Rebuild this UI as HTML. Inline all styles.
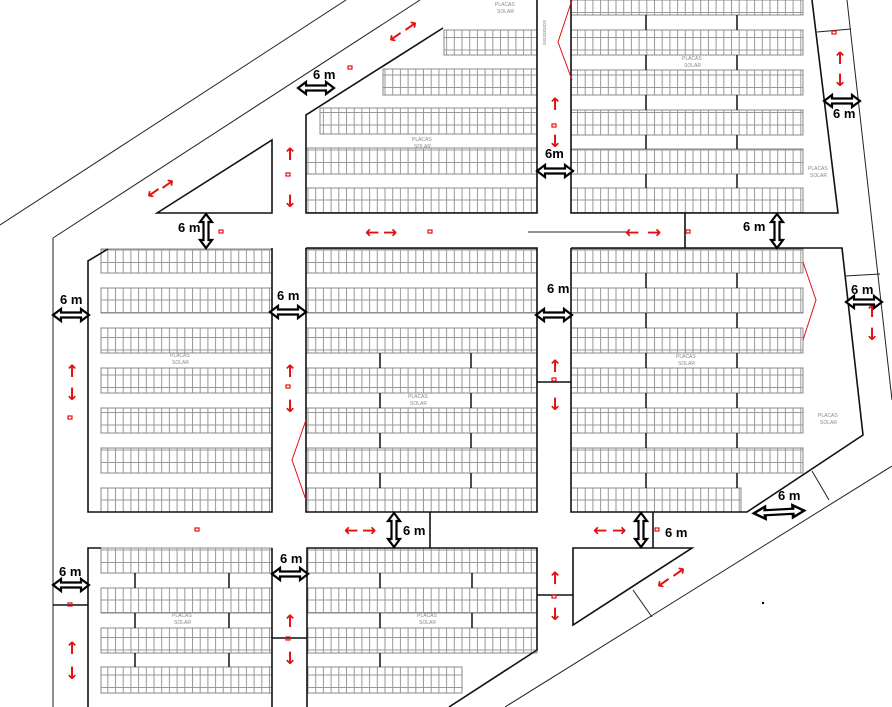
<!DOCTYPE html>
<html><head><meta charset="utf-8"><style>
html,body{margin:0;padding:0;background:#fff;}
svg{display:block;}
.b{fill:none;stroke:#111;stroke-width:1.6}
.l{stroke:#222;stroke-width:1;fill:none}
.s{fill:url(#p);stroke:#888;stroke-width:1}
.t{font-family:"Liberation Sans",sans-serif;font-weight:bold;font-size:13px;fill:#000}
.r{font-family:"DejaVu Sans",sans-serif;font-weight:bold;font-size:17px;fill:#e31010}
.g{font-family:"Liberation Sans",sans-serif;font-size:5px;fill:#888}
.a{fill:#fff;stroke:#000;stroke-width:2.2}
.rs{fill:none;stroke:#e31010;stroke-width:1}
</style></head><body>
<svg width="892" height="707" viewBox="0 0 892 707" xmlns="http://www.w3.org/2000/svg">
<defs>
<pattern id="p" width="7.7" height="12.5" patternUnits="userSpaceOnUse">
<rect x="0" y="0" width="7.7" height="12.5" fill="#fff" stroke="#999" stroke-width="1"/>
</pattern>
<g id="ah"><polygon class="a" points="-18,0 -10,-6 -10,-2.5 10,-2.5 10,-6 18,0 10,6 10,2.5 -10,2.5 -10,6"/></g>
<g id="av"><polygon class="a" points="0,-17 -6,-9 -2.5,-9 -2.5,9 -6,9 0,17 6,9 2.5,9 2.5,-9 6,-9"/></g>
</defs>

<line class="l" x1="0" y1="225" x2="346" y2="0"/>
<line class="l" x1="53" y1="238" x2="420" y2="0"/>
<line class="l" x1="53" y1="238" x2="53" y2="707"/>
<polygon class="b" points="157,213 272,140 272,213"/>
<line class="l" x1="528" y1="232" x2="628" y2="232"/>
<line class="l" x1="847" y1="0" x2="892" y2="400"/>
<line class="l" x1="505" y1="707" x2="892" y2="466"/>

<rect class="s" x="444" y="30" width="93" height="25"/>
<rect class="s" x="383" y="69" width="154" height="26"/>
<rect class="s" x="320" y="108" width="217" height="26"/>
<rect class="s" x="306" y="148" width="231" height="26"/>
<rect class="s" x="306" y="188" width="231" height="25"/>
<polyline class="b" points="443,28 306,115 306,213 537,213 537,0"/>

<rect class="s" x="571" y="0" width="232" height="15"/>
<rect class="s" x="571" y="30" width="232" height="25"/>
<rect class="s" x="571" y="70" width="232" height="25"/>
<rect class="s" x="571" y="110" width="232" height="25"/>
<rect class="s" x="571" y="149" width="232" height="25"/>
<rect class="s" x="571" y="188" width="232" height="25"/>
<polyline class="b" points="571,0 571,213 838,213 812,0"/>
<line class="l" x1="817" y1="32" x2="851" y2="29"/>
<g stroke="#111" stroke-width="1.5"><line x1="646" y1="15" x2="646" y2="30"/><line x1="737" y1="15" x2="737" y2="30"/><line x1="646" y1="55" x2="646" y2="70"/><line x1="737" y1="55" x2="737" y2="70"/><line x1="646" y1="95" x2="646" y2="110"/><line x1="737" y1="95" x2="737" y2="110"/><line x1="646" y1="135" x2="646" y2="149"/><line x1="737" y1="135" x2="737" y2="149"/><line x1="646" y1="174" x2="646" y2="188"/><line x1="737" y1="174" x2="737" y2="188"/></g>

<rect class="s" x="101" y="249" width="171" height="24"/>
<rect class="s" x="101" y="288" width="171" height="25"/>
<rect class="s" x="101" y="328" width="171" height="25"/>
<rect class="s" x="101" y="368" width="171" height="25"/>
<rect class="s" x="101" y="408" width="171" height="25"/>
<rect class="s" x="101" y="448" width="171" height="25"/>
<rect class="s" x="101" y="488" width="171" height="24"/>
<polyline class="b" points="272,248 272,512 88,512 88,261 108,249"/>

<rect class="s" x="306" y="249" width="231" height="24"/>
<rect class="s" x="306" y="288" width="231" height="25"/>
<rect class="s" x="306" y="328" width="231" height="25"/>
<rect class="s" x="306" y="368" width="231" height="25"/>
<rect class="s" x="306" y="408" width="231" height="25"/>
<rect class="s" x="306" y="448" width="231" height="25"/>
<rect class="s" x="306" y="488" width="231" height="24"/>
<polyline class="b" points="306,248 306,512 537,512 537,248 306,248"/>
<g stroke="#111" stroke-width="1.5"><line x1="380" y1="353" x2="380" y2="368"/><line x1="471" y1="353" x2="471" y2="368"/><line x1="380" y1="393" x2="380" y2="408"/><line x1="471" y1="393" x2="471" y2="408"/><line x1="380" y1="433" x2="380" y2="448"/><line x1="471" y1="433" x2="471" y2="448"/><line x1="380" y1="473" x2="380" y2="488"/><line x1="471" y1="473" x2="471" y2="488"/></g>

<rect class="s" x="571" y="249" width="232" height="24"/>
<rect class="s" x="571" y="288" width="232" height="25"/>
<rect class="s" x="571" y="328" width="232" height="25"/>
<rect class="s" x="571" y="368" width="232" height="25"/>
<rect class="s" x="571" y="408" width="232" height="25"/>
<rect class="s" x="571" y="448" width="232" height="25"/>
<rect class="s" x="571" y="488" width="170" height="24"/>
<polyline class="b" points="571,248 842,248 863,435 747,512 571,512 571,248"/>
<line class="l" x1="845" y1="276" x2="880" y2="274"/>
<line class="l" x1="812" y1="471" x2="829" y2="500"/>
<g stroke="#111" stroke-width="1.5"><line x1="646" y1="273" x2="646" y2="288"/><line x1="737" y1="273" x2="737" y2="288"/><line x1="646" y1="313" x2="646" y2="328"/><line x1="737" y1="313" x2="737" y2="328"/><line x1="646" y1="353" x2="646" y2="368"/><line x1="737" y1="353" x2="737" y2="368"/><line x1="646" y1="393" x2="646" y2="408"/><line x1="737" y1="393" x2="737" y2="408"/><line x1="646" y1="433" x2="646" y2="448"/><line x1="737" y1="433" x2="737" y2="448"/><line x1="646" y1="473" x2="646" y2="488"/><line x1="737" y1="473" x2="737" y2="488"/></g>

<rect class="s" x="101" y="548" width="171" height="25"/>
<rect class="s" x="101" y="588" width="171" height="25"/>
<rect class="s" x="101" y="628" width="171" height="25"/>
<rect class="s" x="101" y="667" width="171" height="26"/>
<polyline class="b" points="88,707 88,548 101,548"/>
<line class="b" x1="272" y1="548" x2="272" y2="707"/>
<g stroke="#111" stroke-width="1.5"><line x1="135" y1="573" x2="135" y2="588"/><line x1="229" y1="573" x2="229" y2="588"/><line x1="135" y1="613" x2="135" y2="628"/><line x1="229" y1="613" x2="229" y2="628"/><line x1="135" y1="653" x2="135" y2="667"/><line x1="229" y1="653" x2="229" y2="667"/></g>

<rect class="s" x="307" y="548" width="230" height="25"/>
<rect class="s" x="307" y="588" width="230" height="25"/>
<rect class="s" x="307" y="628" width="230" height="25"/>
<rect class="s" x="307" y="667" width="155" height="26"/>
<polyline class="b" points="307,707 307,548 537,548 537,650 449,707"/>
<g stroke="#111" stroke-width="1.5"><line x1="380" y1="573" x2="380" y2="588"/><line x1="472" y1="573" x2="472" y2="588"/><line x1="380" y1="613" x2="380" y2="628"/><line x1="472" y1="613" x2="472" y2="628"/><line x1="380" y1="653" x2="380" y2="667"/></g>

<polygon class="b" points="573,548 692,548 573,625"/>
<line class="l" x1="633" y1="590" x2="652" y2="617"/>

<g class="b">
<line x1="430" y1="512" x2="430" y2="548"/>
<line x1="685" y1="213" x2="685" y2="248"/>
<line x1="653" y1="512" x2="653" y2="548"/>
<line x1="537" y1="382" x2="571" y2="382"/>
<line x1="272" y1="638" x2="307" y2="638"/>
<line x1="537" y1="595" x2="573" y2="595"/>
<line x1="53" y1="605" x2="88" y2="605"/>
</g>

<polyline class="rs" points="572,0 558,42 572,80"/>
<polyline class="rs" points="803,262 816,300 803,340"/>
<polyline class="rs" points="306,420 292,460 306,500"/>
<text class="g" x="546" y="45" transform="rotate(-90 546 45)" fill="#e55">xxxxxxxxxx</text>

<text class="g" x="412" y="141">PLACAS</text><text class="g" x="414" y="148">SOLAR</text>
<text class="g" x="682" y="60">PLACAS</text><text class="g" x="684" y="67">SOLAR</text>
<text class="g" x="170" y="357">PLACAS</text><text class="g" x="172" y="364">SOLAR</text>
<text class="g" x="408" y="398">PLACAS</text><text class="g" x="410" y="405">SOLAR</text>
<text class="g" x="676" y="358">PLACAS</text><text class="g" x="678" y="365">SOLAR</text>
<text class="g" x="818" y="417">PLACAS</text><text class="g" x="820" y="424">SOLAR</text>
<text class="g" x="808" y="170">PLACAS</text><text class="g" x="810" y="177">SOLAR</text>
<text class="g" x="172" y="617">PLACAS</text><text class="g" x="174" y="624">SOLAR</text>
<text class="g" x="417" y="617">PLACAS</text><text class="g" x="419" y="624">SOLAR</text>
<text class="g" x="495" y="6">PLACAS</text><text class="g" x="497" y="13">SOLAR</text>

<g class="r">
<text x="365" y="238">←</text><text x="383" y="238">→</text>
<text x="625" y="238">←</text><text x="647" y="238">→</text>
<text x="344" y="536">←</text><text x="362" y="536">→</text>
<text x="593" y="536">←</text><text x="612" y="536">→</text>
<text x="283" y="160">↑</text><text x="283" y="207">↓</text>
<text x="548" y="110">↑</text><text x="548" y="147">↓</text>
<text x="833" y="64">↑</text><text x="833" y="86">↓</text>
<text x="65" y="377">↑</text><text x="65" y="400">↓</text>
<text x="283" y="377">↑</text><text x="283" y="412">↓</text>
<text x="548" y="372">↑</text><text x="548" y="410">↓</text>
<text x="865" y="317">↑</text><text x="865" y="340">↓</text>
<text x="65" y="654">↑</text><text x="65" y="679">↓</text>
<text x="283" y="627">↑</text><text x="283" y="664">↓</text>
<text x="548" y="584">↑</text><text x="548" y="620">↓</text>
<text x="146" y="198" transform="rotate(-35 153 192)">←</text><text x="160" y="190" transform="rotate(-35 167 184)">→</text>
<text x="388" y="42" transform="rotate(-35 395 36)">←</text><text x="403" y="32" transform="rotate(-35 410 26)">→</text>
<text x="656" y="588" transform="rotate(-35 663 582)">←</text><text x="671" y="578" transform="rotate(-35 678 572)">→</text>
</g>
<g fill="none" stroke="#e31010" stroke-width="1.2">
<rect x="219" y="230" width="4" height="3"/><rect x="428" y="230" width="4" height="3"/><rect x="686" y="230" width="4" height="3"/>
<rect x="286" y="173" width="4" height="3"/><rect x="552" y="124" width="4" height="3"/><rect x="832" y="31" width="4" height="3"/>
<rect x="68" y="416" width="4" height="3"/><rect x="286" y="385" width="4" height="3"/><rect x="552" y="378" width="4" height="3"/>
<rect x="195" y="528" width="4" height="3"/><rect x="655" y="528" width="4" height="3"/><rect x="68" y="603" width="4" height="3"/>
<rect x="286" y="637" width="4" height="3"/><rect x="552" y="595" width="4" height="3"/><rect x="348" y="66" width="4" height="3"/>
</g>

<use href="#ah" x="316" y="88"/>
<use href="#ah" x="555" y="171"/>
<use href="#ah" x="842" y="101"/>
<use href="#ah" x="71" y="315"/>
<use href="#ah" x="288" y="312"/>
<use href="#ah" x="554" y="315"/>
<use href="#ah" x="864" y="302"/>
<use href="#ah" x="71" y="585"/>
<use href="#ah" x="290" y="574"/>
<g transform="translate(779,512) rotate(-3) scale(1.4,1)"><use href="#ah"/></g>
<use href="#av" x="206" y="231"/>
<use href="#av" x="777" y="231"/>
<use href="#av" x="394" y="530"/>
<use href="#av" x="641" y="530"/>

<g class="t">
<text x="313" y="79">6 m</text>
<text x="545" y="158">6m</text>
<text x="833" y="118">6 m</text>
<text x="60" y="304">6 m</text>
<text x="277" y="300">6 m</text>
<text x="547" y="293">6 m</text>
<text x="851" y="294">6 m</text>
<text x="59" y="576">6 m</text>
<text x="280" y="563">6 m</text>
<text x="778" y="500">6 m</text>
<text x="178" y="232">6 m</text>
<text x="743" y="231">6 m</text>
<text x="403" y="535">6 m</text>
<text x="665" y="537">6 m</text>
</g>
<circle cx="763" cy="603" r="1.2" fill="#000"/>
</svg>
</body></html>
